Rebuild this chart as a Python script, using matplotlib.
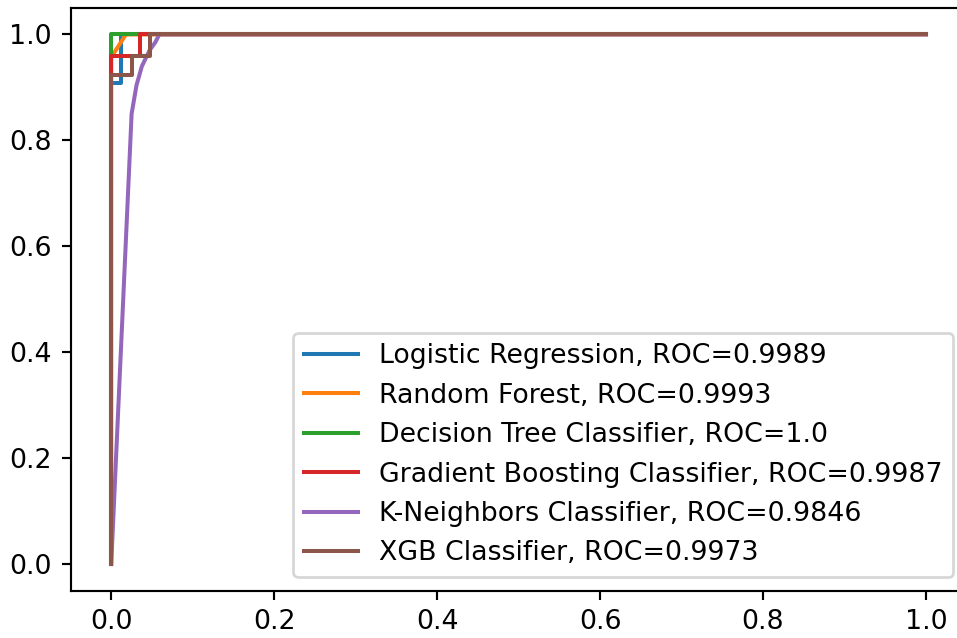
import matplotlib
matplotlib.use("Agg")
import matplotlib.pyplot as plt

# ROC curves (false positive rate, true positive rate)
lr_fpr = [0.0, 0.0, 0.012, 0.012, 1.0]
lr_tpr = [0.0, 0.909, 0.909, 1.0, 1.0]

rf_fpr = [0.0, 0.0, 0.018, 1.0]
rf_tpr = [0.0, 0.957, 1.0, 1.0]

dt_fpr = [0.0, 0.0, 1.0]
dt_tpr = [0.0, 1.0, 1.0]

gb_fpr = [0.0, 0.0, 0.035, 0.035, 1.0]
gb_tpr = [0.0, 0.96, 0.96, 1.0, 1.0]

knn_fpr = [0.0, 0.025, 0.031, 0.0376, 0.047, 0.054, 0.059, 1.0]
knn_tpr = [0.0, 0.85, 0.904, 0.94, 0.97, 0.985, 1.0, 1.0]

xgb_fpr = [0.0, 0.0, 0.025, 0.025, 0.048, 0.048, 1.0]
xgb_tpr = [0.0, 0.923, 0.923, 0.96, 0.96, 1.0, 1.0]

labels = [
    "Logistic Regression, ROC=0.9989",
    "Random Forest, ROC=0.9993",
    "Decision Tree Classifier, ROC=1.0",
    "Gradient Boosting Classifier, ROC=0.9987",
    "K-Neighbors Classifier, ROC=0.9846",
    "XGB Classifier, ROC=0.9973",
]

curves = [(lr_fpr, lr_tpr), (rf_fpr, rf_tpr), (dt_fpr, dt_tpr),
          (gb_fpr, gb_tpr), (knn_fpr, knn_tpr), (xgb_fpr, xgb_tpr)]

dpi = 193
fig = plt.figure(figsize=(957 / dpi, 638 / dpi), dpi=dpi)
ax = fig.add_axes([70.5 / 957, (638 - 590.5) / 638, 896.2 / 957, 582.5 / 638])

for (f, t), lab in zip(curves, labels):
    ax.plot(f, t, label=lab)

ax.legend(loc="lower right")
fig.savefig("out.png", dpi=dpi)
